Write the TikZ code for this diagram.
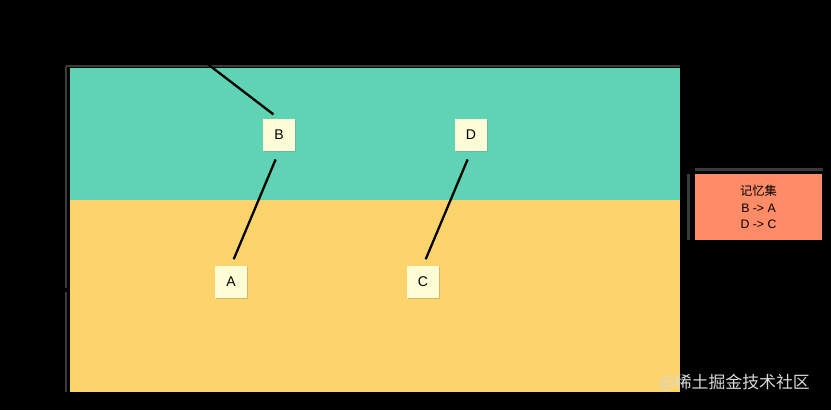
\documentclass[tikz,border=0pt]{standalone}
\usepackage{fontspec}
\setmainfont{Liberation Sans}
\newfontfamily\cjk{Noto Sans CJK SC}
\usetikzlibrary{positioning,shadows}

\definecolor{young}{HTML}{5FD3B3}
\definecolor{old}{HTML}{FDD46B}
\definecolor{objfill}{HTML}{FFFDD6}
\definecolor{remfill}{HTML}{FF8C66}
\definecolor{edge}{HTML}{3A3A3A}

\begin{document}
\begin{tikzpicture}[x=0.02cm,y=-0.02cm,font=\small]
\tikzstyle{obj}=[fill=objfill,minimum width=0.64cm,minimum height=0.64cm,inner sep=0pt,font=\fontsize{8}{9}\selectfont,drop shadow={opacity=0.35,shadow xshift=0.6pt,shadow yshift=-0.8pt}]
\tikzstyle{ref}=[line width=1.3pt,shorten <=5pt,shorten >=4pt]
\tikzstyle{wall}=[draw=edge,line width=1.6pt]
% background and the two regions
\fill[black] (0,0) rectangle (831,410);
\useasboundingbox (0,0) rectangle (831,410);
\fill[young] (70,68) rectangle (680,200);
\fill[old] (70,200) rectangle (680,392);
\draw[wall] (66,66) -- (680,66);
\draw[wall] (66,66) -- (66,288);
\draw[wall] (66,292) -- (66,392);
% objects
\node[obj] (b) at (279,135) {B};
\node[obj] (d) at (471,135) {D};
\node[obj] (a) at (231,282) {A};
\node[obj] (c) at (423,282) {C};
\coordinate (root) at (205,62);
\draw[line width=1.3pt,shorten >=4pt] (root) -- (b.north);
\draw[ref] (b.south) -- (a.north);
\draw[ref] (d.south) -- (c.north);
% remembered set
\node[fill=remfill,minimum width=2.54cm,minimum height=1.32cm,align=center,font=\fontsize{7}{9.6}\selectfont] (remset) at (758.5,207) {{\cjk 记忆集}\\B -> A\\D -> C};
\draw[wall] (remset.north west) ++(0,-4) -- ++(128,0);
\draw[wall] (remset.north west) ++(-6,0) -- ++(0,66);
% watermark
\node[text=white!85!black,anchor=east,font=\fontsize{9.6}{10}\selectfont] (mark) at (816,383) {{\cjk @稀土掘金技术社区}};
\end{tikzpicture}
\end{document}
